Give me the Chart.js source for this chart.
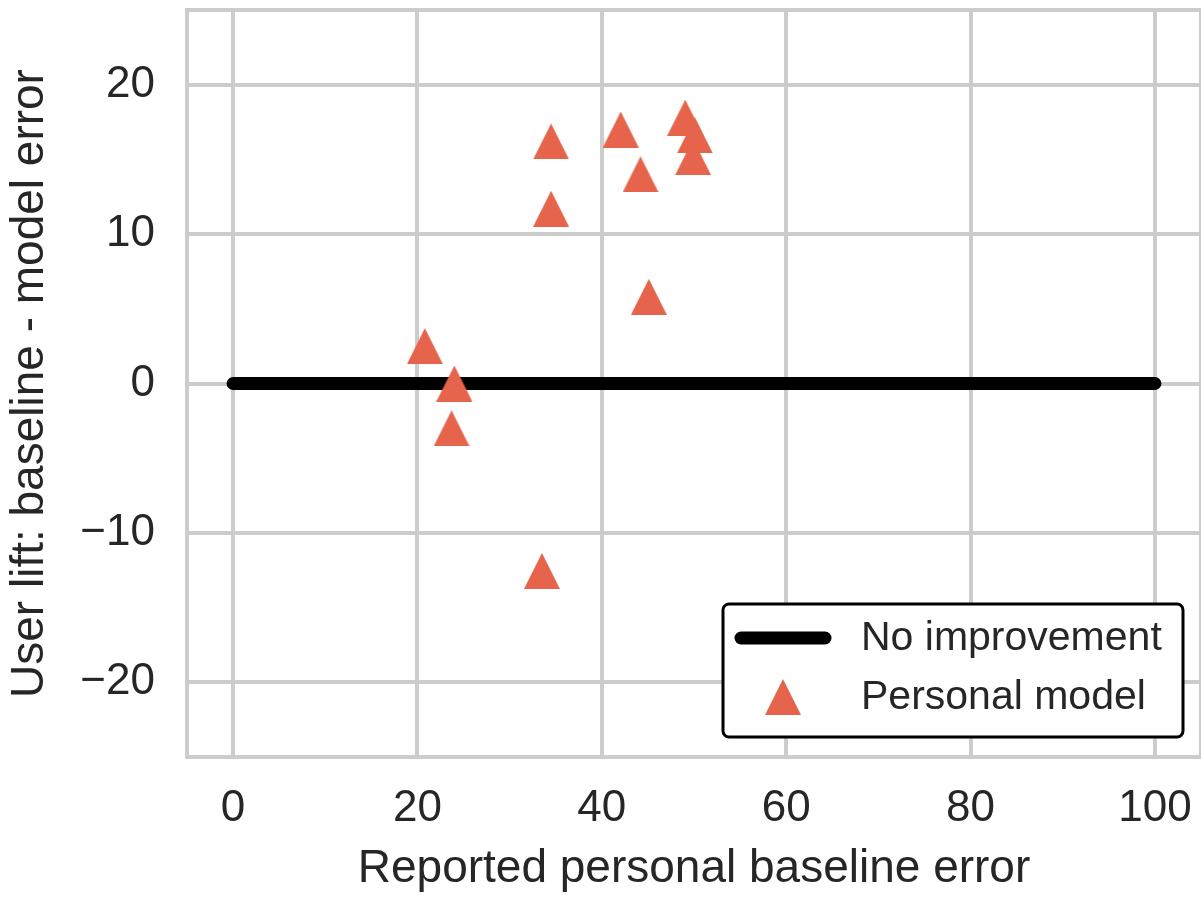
<!DOCTYPE html>
<html>
<head>
<meta charset="utf-8">
<script src="https://cdn.jsdelivr.net/npm/chart.js@4/dist/chart.umd.min.js"></script>
<style>
  html, body { margin: 0; padding: 0; background: #ffffff; overflow: hidden; }
  #wrap { width: 1201px; height: 897px; }
</style>
</head>
<body>
<div id="wrap"><canvas id="c" width="1201" height="897"></canvas></div>
<script>
// Per-user values: reported personal baseline error vs. lift of the personal model
const baselineError = [34.5, 34.5, 42.05, 44.2, 49.05, 50.1, 49.9, 45.1, 20.8, 24.0, 23.7, 33.5];
const userLift      = [16.2, 11.7, 17.0, 14.0, 17.8, 16.6, 15.15, 5.8, 2.5, 0.0, -3.0, -12.55];

// Reference line: zero lift across the full error range
const referenceX = [0, 100];
const referenceY = [0, 0];

const seriesNames = ['No improvement', 'Personal model'];
const xTitle = 'Reported personal baseline error';
const yTitle = 'User lift: baseline - model error';

const xTickValues = [0, 20, 40, 60, 80, 100];
const yTickValues = [-20, -10, 0, 10, 20];

const FONT = '"Liberation Sans", Arial, Helvetica, sans-serif';
const TEXT = '#262626';
const GRID = '#cccccc';
const MARKER = '#e5644b';

// Isosceles up-triangle marker (equal width and height), centred on its point
function triangleMarker(size, color) {
  const cv = document.createElement('canvas');
  cv.width = size; cv.height = size;
  const g = cv.getContext('2d');
  g.fillStyle = color;
  g.beginPath();
  g.moveTo(size / 2, 0);
  g.lineTo(size, size);
  g.lineTo(0, size);
  g.closePath();
  g.fill();
  return cv;
}
const tri = triangleMarker(36, MARKER);

// Light frame around the plotting area
const framePlugin = {
  id: 'frame',
  beforeDatasetsDraw(chart) {
    const a = chart.chartArea, ctx = chart.ctx;
    ctx.save();
    ctx.strokeStyle = GRID;
    ctx.lineWidth = 4;
    ctx.strokeRect(a.left, a.top, a.right - a.left, a.bottom - a.top);
    ctx.restore();
  }
};

// Boxed legend placed in the lower-right corner of the plot
const boxLegend = {
  id: 'boxLegend',
  afterDraw(chart, args, opts) {
    const ctx = chart.ctx;
    const {x, y, w, h, rowY, sampleX, textX} = opts;
    ctx.save();
    ctx.beginPath();
    ctx.roundRect(x, y, w, h, 6);
    ctx.fillStyle = '#ffffff';
    ctx.fill();
    ctx.lineWidth = 3;
    ctx.strokeStyle = '#000000';
    ctx.stroke();

    chart.data.datasets.forEach((ds, i) => {
      const cy = rowY[i];
      if (ds.showLine) {
        ctx.beginPath();
        ctx.lineCap = 'round';
        ctx.lineWidth = ds.borderWidth;
        ctx.strokeStyle = ds.borderColor;
        ctx.moveTo(sampleX - 42, cy);
        ctx.lineTo(sampleX + 42, cy);
        ctx.stroke();
      } else {
        const img = ds.pointStyle;
        ctx.drawImage(img, sampleX - img.width / 2, cy - img.height / 2);
      }
      ctx.fillStyle = TEXT;
      ctx.font = '41px ' + FONT;
      ctx.textAlign = 'left';
      ctx.textBaseline = 'middle';
      ctx.fillText(ds.label, textX, cy + 1);
    });
    ctx.restore();
  }
};

new Chart(document.getElementById('c'), {
  type: 'scatter',
  data: {
    datasets: [
      {
        label: seriesNames[0],
        data: referenceX.map((v, i) => ({x: v, y: referenceY[i]})),
        showLine: true,
        borderColor: '#000000',
        borderWidth: 13,
        borderCapStyle: 'round',
        pointRadius: 0,
        order: 2
      },
      {
        label: seriesNames[1],
        data: baselineError.map((v, i) => ({x: v, y: userLift[i]})),
        pointStyle: tri,
        pointRadius: 18,
        order: 1
      }
    ]
  },
  options: {
    responsive: false,
    animation: false,
    devicePixelRatio: 1,
    events: [],
    layout: { autoPadding: false, padding: { top: 10, right: 0, left: 0, bottom: 0 } },
    plugins: {
      legend: { display: false },
      tooltip: { enabled: false },
      boxLegend: { x: 723, y: 604, w: 460, h: 133, rowY: [638, 697], sampleX: 783, textX: 861 }
    },
    scales: {
      x: {
        type: 'linear',
        min: -5, max: 105,
        afterBuildTicks: s => { s.ticks = xTickValues.map(v => ({value: v})); },
        afterFit: s => { s.height = 140; s.paddingLeft = 0; s.paddingRight = 0; },
        grid: { color: GRID, lineWidth: 4, drawTicks: false },
        border: { display: false },
        ticks: { autoSkip: false, maxRotation: 0, padding: 25, color: TEXT, font: { family: FONT, size: 44 } },
        title: { display: true, text: xTitle, color: TEXT, padding: { top: 0, bottom: 0 }, font: { family: FONT, size: 46 } }
      },
      y: {
        type: 'linear',
        min: -25, max: 25,
        afterBuildTicks: s => { s.ticks = yTickValues.map(v => ({value: v})); },
        afterFit: s => { s.width = 187; s.paddingTop = 0; s.paddingBottom = 0; },
        grid: { color: GRID, lineWidth: 4, drawTicks: false },
        border: { display: false },
        ticks: {
          autoSkip: false, padding: 32, color: TEXT, font: { family: FONT, size: 44 },
          callback: v => (v < 0 ? '\u2212' + Math.abs(v) : String(v))
        },
        title: { display: true, text: yTitle, color: TEXT, padding: { top: 3, bottom: 0 }, font: { family: FONT, size: 46 } }
      }
    }
  },
  plugins: [framePlugin, boxLegend]
});
</script>
</body>
</html>
